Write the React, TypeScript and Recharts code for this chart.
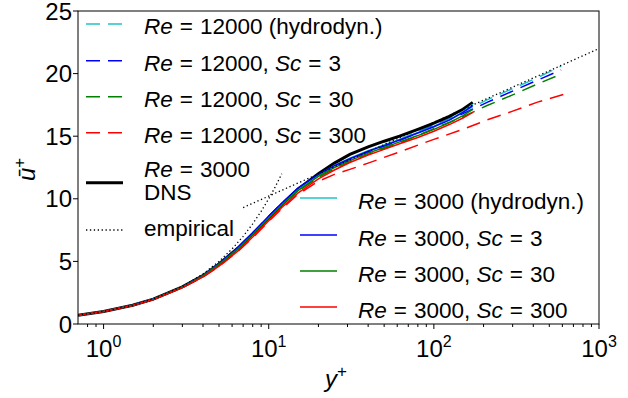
import React from "react";
import { LineChart, Line, XAxis, YAxis } from "recharts";

// wall-normal positions (y+) for the Re = 3000 runs
const yPlusRe3000 = [0.7, 1, 1.5, 2, 3, 4, 5, 6.5, 8, 10, 12, 15, 20, 25, 31, 40, 50, 62, 80, 100, 125, 150, 172];
const dnsRe3000 = [0.7, 1.0, 1.5, 1.99, 2.96, 3.86, 4.8, 6.05, 7.2, 8.5, 9.55, 10.75, 12.0, 12.85, 13.55, 14.15, 14.6, 15.0, 15.55, 16.05, 16.6, 17.15, 17.7];
const hydroRe3000 = [0.7, 1.0, 1.5, 1.99, 2.96, 3.86, 4.8, 6.05, 7.2, 8.5, 9.55, 10.7, 11.9, 12.65, 13.25, 13.85, 14.3, 14.75, 15.3, 15.8, 16.35, 16.95, 17.55];
const sc3Re3000 = [0.7, 1.0, 1.5, 1.99, 2.96, 3.86, 4.82, 6.1, 7.28, 8.6, 9.65, 10.85, 11.95, 12.65, 13.2, 13.8, 14.25, 14.7, 15.25, 15.75, 16.3, 16.9, 17.45];
const sc30Re3000 = [0.7, 1.0, 1.49, 1.98, 2.95, 3.84, 4.76, 6.0, 7.15, 8.45, 9.5, 10.65, 11.8, 12.5, 13.05, 13.65, 14.1, 14.55, 15.05, 15.55, 16.1, 16.65, 17.15];
const sc300Re3000 = [0.7, 1.0, 1.48, 1.96, 2.9, 3.76, 4.62, 5.82, 6.95, 8.25, 9.3, 10.45, 11.6, 12.3, 12.9, 13.5, 13.95, 14.4, 14.9, 15.4, 15.95, 16.45, 16.9];

// Re = 12000 runs
const yPlusRe12000 = [0.7, 1, 1.5, 2, 3, 4, 5, 6.5, 8, 10, 12, 15, 20, 25, 31, 40, 62, 100, 150, 210, 300, 420, 590];
const yPlusRe12000Sc300 = [0.7, 1, 1.5, 2, 3, 4, 5, 6.5, 8, 10, 12, 15, 20, 25, 31, 40, 62, 100, 150, 210, 300, 420, 650];
const hydroRe12000 = [0.7, 1.0, 1.5, 1.99, 2.96, 3.86, 4.8, 6.05, 7.2, 8.5, 9.55, 10.7, 11.85, 12.6, 13.2, 13.8, 14.75, 15.95, 16.95, 17.9, 18.8, 19.65, 20.6];
const sc3Re12000 = [0.7, 1.0, 1.5, 1.99, 2.96, 3.86, 4.82, 6.1, 7.28, 8.6, 9.65, 10.8, 11.9, 12.6, 13.15, 13.75, 14.65, 15.85, 16.8, 17.7, 18.6, 19.45, 20.3];
const sc30Re12000 = [0.7, 1.0, 1.49, 1.98, 2.95, 3.84, 4.76, 6.0, 7.15, 8.45, 9.5, 10.6, 11.7, 12.4, 12.95, 13.55, 14.45, 15.6, 16.55, 17.45, 18.3, 19.15, 19.95];
const sc300Re12000 = [0.7, 1.0, 1.48, 1.96, 2.9, 3.76, 4.6, 5.8, 6.9, 8.2, 9.2, 10.35, 11.4, 11.95, 12.35, 12.85, 13.75, 14.75, 15.55, 16.3, 17.0, 17.7, 18.45];

// empirical laws: viscous sublayer and log law
const yPlusViscous = [0.7, 1, 1.5, 2, 3, 4, 5, 6, 7, 8, 9, 10, 11, 12];
const uViscous = [0.7, 1, 1.5, 2, 3, 4, 5, 6, 7, 8, 9, 10, 11, 12];
const yPlusLogLaw = [7, 1000];
const uLogLaw = [9.3, 22.0];

const xMajorTicks = [1, 10, 100, 1000];
const xMajorLabels = ["0", "1", "2", "3"];
const xMinorTicks = [0.8, 0.9, 2, 3, 4, 5, 6, 7, 8, 9, 20, 30, 40, 50, 60, 70, 80, 90, 200, 300, 400, 500, 600, 700, 800, 900];
const yTicks = [0, 5, 10, 15, 20, 25];

const toRows = (ys: number[], us: number[]) => ys.map((y, i) => ({ y, u: us[i] }));

const CYAN = "#1fc4c4";
const DASH = "14 8";
const DOT = "1.3 2.6";
const FONT = "'Liberation Sans', Arial, sans-serif";
const LFS = 22.5;

const dashedSeries = [
  { key: "c12", rows: toRows(yPlusRe12000, hydroRe12000), color: CYAN },
  { key: "b12", rows: toRows(yPlusRe12000, sc3Re12000), color: "#0000ff" },
  { key: "g12", rows: toRows(yPlusRe12000, sc30Re12000), color: "#008000" },
  { key: "r12", rows: toRows(yPlusRe12000Sc300, sc300Re12000), color: "#ff0000" },
];
const solidSeries = [
  { key: "c3", rows: toRows(yPlusRe3000, hydroRe3000), color: CYAN },
  { key: "b3", rows: toRows(yPlusRe3000, sc3Re3000), color: "#0000ff" },
  { key: "g3", rows: toRows(yPlusRe3000, sc30Re3000), color: "#008000" },
  { key: "r3", rows: toRows(yPlusRe3000, sc300Re3000), color: "#ff0000" },
];

const XTick = (props: any) => {
  const { x, y, payload } = props;
  const idx = xMajorTicks.indexOf(payload.value);
  const major = idx >= 0;
  return (
    <g>
      <line x1={x} x2={x} y1={y} y2={y + (major ? 5 : 3)} stroke="#000" strokeWidth={1} />
      {major && (
        <text x={x} y={y + 33} textAnchor="middle" fontFamily={FONT} fontSize={24} fill="#000">
          10
          <tspan dy={-10} fontSize={16}>{xMajorLabels[idx]}</tspan>
        </text>
      )}
    </g>
  );
};

// math-style label: italic symbols, wide spacing around "="
const Label = ({ x, y, re, sc, note }: { x: number; y: number; re: string; sc?: string; note?: string }) => (
  <text x={x} y={y} fontFamily={FONT} fontSize={LFS} fill="#000">
    <tspan fontStyle="italic">Re</tspan>
    <tspan dx={7}>=</tspan>
    <tspan dx={7}>{re}</tspan>
    {sc ? (
      <>
        <tspan>, </tspan>
        <tspan fontStyle="italic">Sc</tspan>
        <tspan dx={7}>=</tspan>
        <tspan dx={7}>{sc}</tspan>
      </>
    ) : null}
    {note ? <tspan>{" " + note}</tspan> : null}
  </text>
);

const legendTop = [
  { y: 24, color: CYAN, sc: undefined, note: "(hydrodyn.)" },
  { y: 60.7, color: "#0000ff", sc: "3" },
  { y: 96.7, color: "#008000", sc: "30" },
  { y: 132.7, color: "#ff0000", sc: "300" },
];
const legendBottom = [
  { y: 198, color: CYAN, sc: undefined, note: "(hydrodyn.)" },
  { y: 235, color: "#0000ff", sc: "3" },
  { y: 271, color: "#008000", sc: "30" },
  { y: 307, color: "#ff0000", sc: "300" },
];

export default function App() {
  return (
    <div style={{ position: "absolute", left: 0, top: 0, width: 628, height: 398, background: "#fff" }}>
      <LineChart width={628} height={398} margin={{ top: 11, right: 29, bottom: 0, left: 0 }}>
        <XAxis
          dataKey="y"
          type="number"
          scale="log"
          domain={[0.7, 1000]}
          allowDataOverflow
          ticks={[...xMinorTicks, ...xMajorTicks].sort((a, b) => a - b)}
          interval={0}
          tick={<XTick />}
          tickLine={false}
          tickSize={0}
          tickMargin={0}
          axisLine={false}
          height={74}
        />
        <YAxis
          type="number"
          domain={[0, 25]}
          ticks={yTicks}
          interval={0}
          width={78}
          axisLine={false}
          tickSize={5}
          tickMargin={1}
          tickLine={{ stroke: "#000" }}
          tick={{ fill: "#000", fontSize: 24, fontFamily: FONT }}
        />
        {dashedSeries.map((s) => (
          <Line key={s.key} data={s.rows} dataKey="u" stroke={s.color} strokeWidth={1.5} strokeDasharray={DASH} dot={false} isAnimationActive={false} />
        ))}
        <Line data={toRows(yPlusRe3000, dnsRe3000)} dataKey="u" stroke="#000" strokeWidth={3} dot={false} isAnimationActive={false} />
        {solidSeries.map((s) => (
          <Line key={s.key} data={s.rows} dataKey="u" stroke={s.color} strokeWidth={1.5} dot={false} isAnimationActive={false} />
        ))}
        <Line data={toRows(yPlusViscous, uViscous)} dataKey="u" stroke="#000" strokeWidth={1.3} strokeDasharray={DOT} dot={false} isAnimationActive={false} />
        <Line data={toRows(yPlusLogLaw, uLogLaw)} dataKey="u" stroke="#000" strokeWidth={1.3} strokeDasharray={DOT} dot={false} isAnimationActive={false} />
      </LineChart>
      <svg width={628} height={398} style={{ position: "absolute", left: 0, top: 0, pointerEvents: "none" }}>
        <rect x={78} y={11} width={521} height={313} fill="none" stroke="#000" strokeWidth={1} />
        {legendTop.map((r) => (
          <g key={"t" + r.y}>
            <line x1={86} x2={123} y1={r.y} y2={r.y} stroke={r.color} strokeWidth={1.5} strokeDasharray={DASH} />
            <Label x={144} y={r.y + 10} re="12000" sc={r.sc} note={r.note} />
          </g>
        ))}
        <line x1={86} x2={123} y1={182.7} y2={182.7} stroke="#000" strokeWidth={3} />
        <Label x={144} y={176.5} re="3000" />
        <text x={144} y={200} fontFamily={FONT} fontSize={LFS} fill="#000">DNS</text>
        <line x1={86} x2={123} y1={230} y2={230} stroke="#000" strokeWidth={1.3} strokeDasharray={DOT} />
        <text x={144} y={236} fontFamily={FONT} fontSize={LFS} fill="#000">empirical</text>
        {legendBottom.map((r) => (
          <g key={"b" + r.y}>
            <line x1={300} x2={337} y1={r.y} y2={r.y} stroke={r.color} strokeWidth={1.5} />
            <Label x={358} y={r.y + 10.5} re="3000" sc={r.sc} note={r.note} />
          </g>
        ))}
        <text transform="translate(35,181) rotate(-90)" fontFamily={FONT} fontSize={24} fill="#000">
          <tspan fontStyle="italic">ū</tspan>
          <tspan dy={-10} fontSize={17}>+</tspan>
        </text>
        <text x={325} y={387} fontFamily={FONT} fontSize={24} fill="#000">
          <tspan fontStyle="italic">y</tspan>
          <tspan dy={-10} fontSize={17}>+</tspan>
        </text>
      </svg>
    </div>
  );
}
